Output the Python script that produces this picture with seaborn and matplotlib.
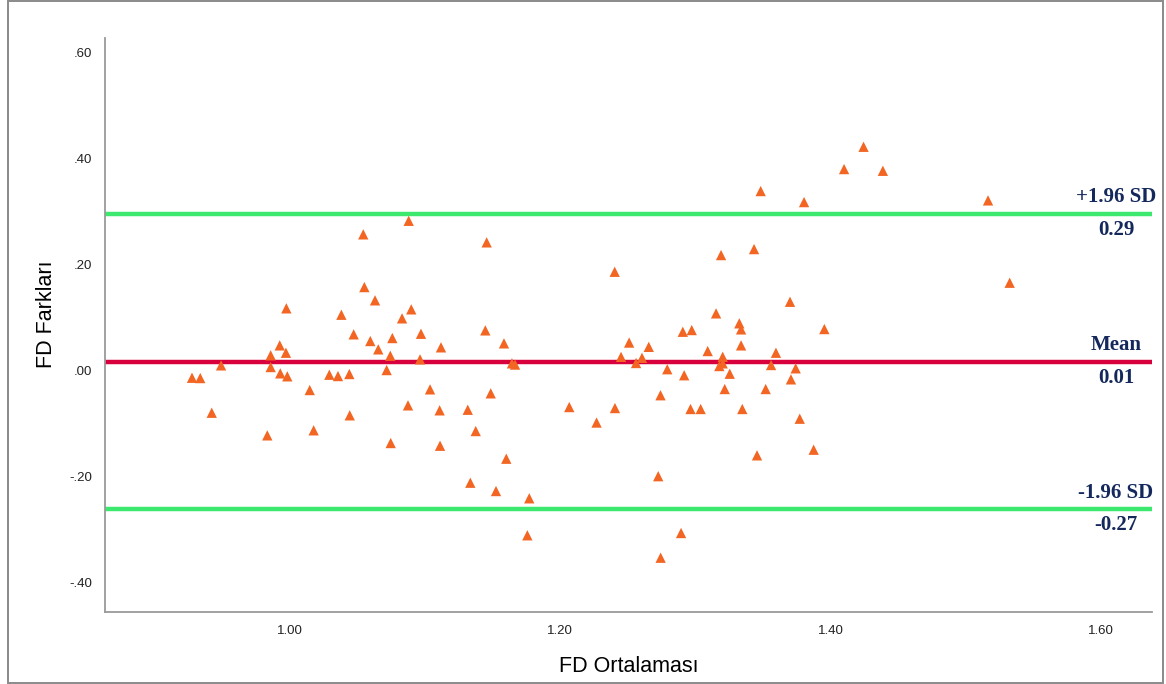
import matplotlib
matplotlib.use('Agg')
import matplotlib.pyplot as plt
import matplotlib.ticker as mticker
from matplotlib.patches import Rectangle
import pandas as pd
import seaborn as sns

# Bland-Altman verileri
fd_mean = [0.9275, 0.9336, 0.9421, 0.9490, 0.9832, 0.9857, 0.9857, 0.9924, 0.9928, 0.9970,
           0.9973, 0.9980, 1.0146, 1.0175, 1.0291, 1.0355, 1.0380, 1.0439, 1.0442, 1.0471,
           1.0542, 1.0550, 1.0594, 1.0629, 1.0653, 1.0715, 1.0742, 1.0745, 1.0757, 1.0829,
           1.0873, 1.0878, 1.0897, 1.0962, 1.0969, 1.1036, 1.1107, 1.1110, 1.1117, 1.1315,
           1.1334, 1.1374, 1.1445, 1.1455, 1.1485, 1.1524, 1.1583, 1.1600, 1.1642, 1.1665,
           1.1756, 1.1770, 1.2066, 1.2268, 1.2402, 1.2404, 1.2449, 1.2509, 1.2560, 1.2604,
           1.2654, 1.2724, 1.2741, 1.2742, 1.2791, 1.2893, 1.2906, 1.2916, 1.2963, 1.2972,
           1.3038, 1.3090, 1.3152, 1.3176, 1.3189, 1.3201, 1.3201, 1.3216, 1.3253, 1.3324,
           1.3337, 1.3337, 1.3346, 1.3433, 1.3455, 1.3482, 1.3519, 1.3559, 1.3595, 1.3699,
           1.3706, 1.3741, 1.3771, 1.3803, 1.3874, 1.3953, 1.4099, 1.4243, 1.4386, 1.5164,
           1.5324]
fd_diff = [-0.0136, -0.0142, -0.0796, 0.0098, -0.1223, 0.0287, 0.0066, 0.0475, -0.0053, 0.0336,
           0.1174, -0.0109, -0.0368, -0.1128, -0.0079, -0.0104, 0.1053, -0.0066, -0.0845, 0.0683,
           0.2570, 0.1575, 0.0557, 0.1325, 0.0400, 0.0009, 0.0279, -0.1368, 0.0613, 0.0985,
           -0.0657, 0.2826, 0.1155, 0.0211, 0.0694, -0.0355, -0.0751, -0.1419, 0.0438, -0.0740,
           -0.2117, -0.1142, 0.0758, 0.2419, -0.0430, -0.2274, 0.0513, -0.1664, 0.0136, 0.0113,
           -0.3109, -0.2411, -0.0689, -0.0981, 0.1864, -0.0708, 0.0258, 0.0528, 0.0142, 0.0240,
           0.0447, -0.1994, -0.0466, -0.3532, 0.0025, -0.3066, 0.0732, -0.0089, -0.0726, 0.0764,
           -0.0726, 0.0368, 0.1079, 0.0085, 0.2179, 0.0260, 0.0136, -0.0349, -0.0060, 0.0891,
           0.0777, 0.0475, -0.0726, 0.2292, -0.1600, 0.3387, -0.0349, 0.0104, 0.0336, 0.1298,
           -0.0166, 0.0042, -0.0909, 0.3179, -0.1494, 0.0783, 0.3802, 0.4223, 0.3770, 0.3211,
           0.1657]

# referans cizgileri ve etiketleri
ref_values = [0.296, 0.017, -0.262]
ref_titles = ['+1.96 SD', 'Mean', '-1.96 SD']
ref_texts = ['0.29', '0.01', '-0.27']
ref_colors = ['#3de86e', '#d8003c', '#3de86e']

x_ticks = [1.00, 1.20, 1.40, 1.60]
x_ticklabels = ['1.00', '1.20', '1.40', '1.60']
y_ticks = [0.60, 0.40, 0.20, 0.00, -0.20, -0.40]
y_ticklabels = ['.60', '.40', '.20', '.00', '-.20', '-.40']

df = pd.DataFrame({'FD Ortalaması': fd_mean, 'FD Farkları': fd_diff})

sns.set_style('white')
plt.rcParams['font.family'] = ['Liberation Sans', 'DejaVu Sans']

fig = plt.figure(figsize=(11.66, 6.84), dpi=100)
ax = fig.add_axes([0.090, 0.105, 0.898, 0.839])

# referans cizgileri
for val, col in zip(ref_values, ref_colors):
    ax.axhline(val, color=col, linewidth=3.2, zorder=1)

sns.scatterplot(data=df, x='FD Ortalaması', y='FD Farkları', ax=ax,
                marker='^', s=55, color='#f26522', edgecolor='none', zorder=3)

# cizgi etiketleri
navy = '#14285c'
trans = ax.get_yaxis_transform()
for val, title, txt in zip(ref_values, ref_titles, ref_texts):
    ax.annotate(title, xy=(0.9656, val), xycoords=trans, xytext=(0, 12),
                textcoords='offset points', ha='center', va='center',
                fontsize=15, fontweight='bold', color=navy,
                family=['Liberation Serif', 'DejaVu Serif'])
    ax.annotate(txt, xy=(0.9656, val), xycoords=trans, xytext=(0, -11.5),
                textcoords='offset points', ha='center', va='center',
                fontsize=15, fontweight='bold', color=navy,
                family=['Liberation Serif', 'DejaVu Serif'])

ax.set_xlim(0.8631, 1.6377)
ax.set_ylim(-0.456, 0.627)
ax.xaxis.set_major_locator(mticker.FixedLocator(x_ticks))
ax.set_xticklabels(x_ticklabels)
ax.yaxis.set_major_locator(mticker.FixedLocator(y_ticks))
ax.set_yticklabels(y_ticklabels)
ax.tick_params(length=0, labelsize=9.5, labelcolor='#222222', pad=9)

ax.set_xlabel('FD Ortalaması', fontsize=15.5, color='black')
ax.set_ylabel('FD Farkları', fontsize=15.5, color='black')
ax.xaxis.set_label_coords(0.5, -0.077)
ax.yaxis.set_label_coords(-0.046, 0.52)

sns.despine(ax=ax)
for side in ['left', 'bottom']:
    ax.spines[side].set_color('#9a9a9a')
    ax.spines[side].set_linewidth(1.3)

# dis cerceve
fig.patches.append(Rectangle((0.0069, 0.0015), 0.9906, 0.997, transform=fig.transFigure,
                             fill=False, edgecolor='#8a8a8a', linewidth=1.4))

fig.savefig('out.png', dpi=100)
